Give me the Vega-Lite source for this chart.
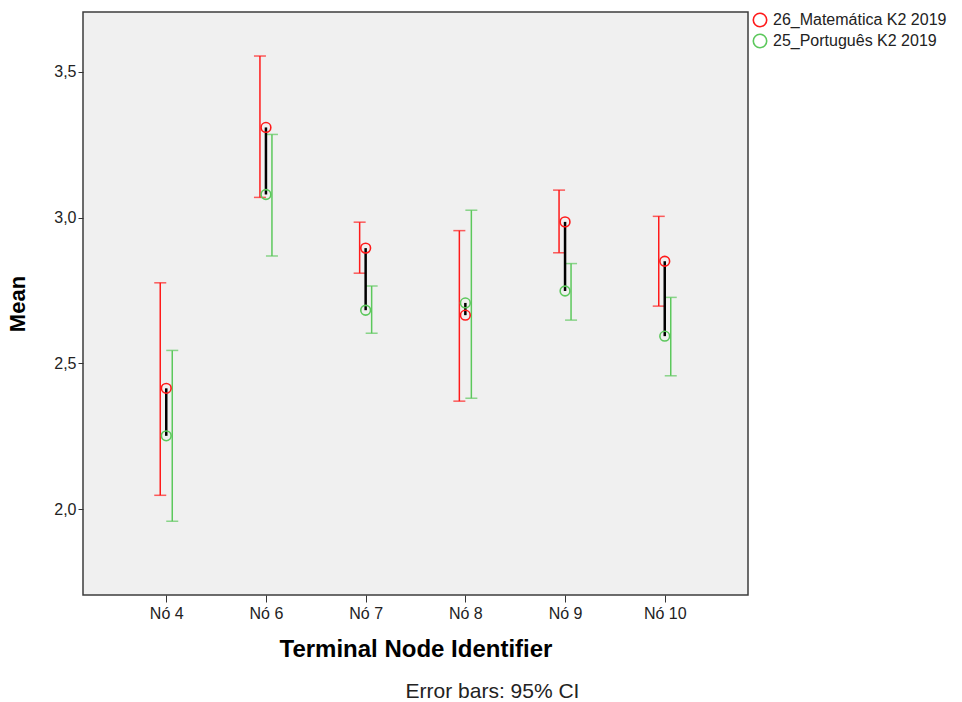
{
  "$schema": "https://vega.github.io/schema/vega-lite/v6.json",
  "width": 665,
  "height": 583,
  "autosize": "none",
  "padding": {"left": 83, "top": 12, "right": 214, "bottom": 107},
  "background": "white",
  "config": {
    "font": "Liberation Sans",
    "view": {"fill": "#F0F0F0", "stroke": "#3C3C3C", "strokeWidth": 1.5}
  },
  "title": {
    "text": "Error bars: 95% CI",
    "orient": "bottom",
    "anchor": "middle",
    "dx": 77,
    "offset": 20,
    "fontSize": 21,
    "fontWeight": "normal",
    "color": "#222222"
  },
  "data": {
    "values": [
      {"node": "Nó 4", "series": "26_Matemática K2 2019", "mean": 2.414, "lo": 2.047, "hi": 2.776},
      {"node": "Nó 4", "series": "25_Português K2 2019", "mean": 2.251, "lo": 1.958, "hi": 2.544},
      {"node": "Nó 6", "series": "26_Matemática K2 2019", "mean": 3.309, "lo": 3.069, "hi": 3.554},
      {"node": "Nó 6", "series": "25_Português K2 2019", "mean": 3.079, "lo": 2.868, "hi": 3.285},
      {"node": "Nó 7", "series": "26_Matemática K2 2019", "mean": 2.895, "lo": 2.809, "hi": 2.984},
      {"node": "Nó 7", "series": "25_Português K2 2019", "mean": 2.682, "lo": 2.603, "hi": 2.765},
      {"node": "Nó 8", "series": "26_Matemática K2 2019", "mean": 2.665, "lo": 2.370, "hi": 2.955},
      {"node": "Nó 8", "series": "25_Português K2 2019", "mean": 2.707, "lo": 2.380, "hi": 3.025},
      {"node": "Nó 9", "series": "26_Matemática K2 2019", "mean": 2.985, "lo": 2.879, "hi": 3.094},
      {"node": "Nó 9", "series": "25_Português K2 2019", "mean": 2.748, "lo": 2.648, "hi": 2.842},
      {"node": "Nó 10", "series": "26_Matemática K2 2019", "mean": 2.850, "lo": 2.696, "hi": 3.004},
      {"node": "Nó 10", "series": "25_Português K2 2019", "mean": 2.593, "lo": 2.457, "hi": 2.726}
    ]
  },
  "encoding": {
    "x": {
      "field": "node",
      "type": "nominal",
      "sort": ["Nó 4", "Nó 6", "Nó 7", "Nó 8", "Nó 9", "Nó 10"],
      "scale": {"type": "point", "padding": 0.835},
      "axis": {
        "title": "Terminal Node Identifier",
        "titleFontSize": 24,
        "titleFontWeight": "bold",
        "titleColor": "#000000",
        "titlePadding": 16,
        "labelAngle": 0,
        "labelFontSize": 16,
        "labelColor": "#222222",
        "labelPadding": 3,
        "tickSize": 7,
        "tickColor": "#333333",
        "domain": false,
        "grid": false
      }
    }
  },
  "layer": [
    {
      "transform": [{"filter": "datum.series == '26_Matemática K2 2019'"}],
      "layer": [
        {
          "mark": {"type": "rule", "color": "#FF1A1A", "strokeWidth": 1.5, "xOffset": -6},
          "encoding": {
            "y": {
              "field": "lo",
              "type": "quantitative",
              "scale": {"domain": [1.705, 3.705], "nice": false, "zero": false},
              "axis": {
                "title": "Mean",
                "titleFontSize": 22,
                "titleFontWeight": "bold",
                "titleColor": "#000000",
                "titlePadding": 24,
                "values": [2, 2.5, 3, 3.5],
                "format": ".1f",
                "labelExpr": "replace(datum.label, '.', ',')",
                "labelFontSize": 16,
                "labelColor": "#222222",
                "labelPadding": 2,
                "tickSize": 5,
                "tickColor": "#333333",
                "domain": false,
                "grid": false
              }
            },
            "y2": {"field": "hi"}
          }
        },
        {
          "mark": {"type": "tick", "color": "#FF1A1A", "size": 12, "thickness": 1.5, "xOffset": -6},
          "encoding": {"y": {"field": "lo", "type": "quantitative"}}
        },
        {
          "mark": {"type": "tick", "color": "#FF1A1A", "size": 12, "thickness": 1.5, "xOffset": -6},
          "encoding": {"y": {"field": "hi", "type": "quantitative"}}
        }
      ]
    },
    {
      "transform": [{"filter": "datum.series == '25_Português K2 2019'"}],
      "layer": [
        {
          "mark": {"type": "rule", "color": "#5CC85C", "strokeWidth": 1.5, "xOffset": 6},
          "encoding": {
            "y": {"field": "lo", "type": "quantitative"},
            "y2": {"field": "hi"}
          }
        },
        {
          "mark": {"type": "tick", "color": "#5CC85C", "size": 12, "thickness": 1.5, "xOffset": 6},
          "encoding": {"y": {"field": "lo", "type": "quantitative"}}
        },
        {
          "mark": {"type": "tick", "color": "#5CC85C", "size": 12, "thickness": 1.5, "xOffset": 6},
          "encoding": {"y": {"field": "hi", "type": "quantitative"}}
        }
      ]
    },
    {
      "mark": {"type": "line", "color": "#000000", "strokeWidth": 2.5},
      "encoding": {
        "y": {"field": "mean", "type": "quantitative"},
        "detail": {"field": "node"}
      }
    },
    {
      "mark": {"type": "point", "shape": "circle", "filled": false, "size": 95, "strokeWidth": 1.6, "opacity": 1},
      "encoding": {
        "y": {"field": "mean", "type": "quantitative"},
        "color": {
          "field": "series",
          "type": "nominal",
          "scale": {
            "domain": ["26_Matemática K2 2019", "25_Português K2 2019"],
            "range": ["#FF1A1A", "#5CC85C"]
          },
          "legend": {
            "title": null,
            "orient": "none",
            "legendX": 669,
            "legendY": 0,
            "symbolType": "circle",
            "symbolFillColor": "transparent",
            "symbolSize": 180,
            "symbolStrokeWidth": 1.6,
            "labelFontSize": 16,
            "labelColor": "#222222",
            "labelOffset": 5,
            "labelLimit": 300,
            "rowPadding": 1,
            "padding": 0
          }
        }
      }
    }
  ]
}
